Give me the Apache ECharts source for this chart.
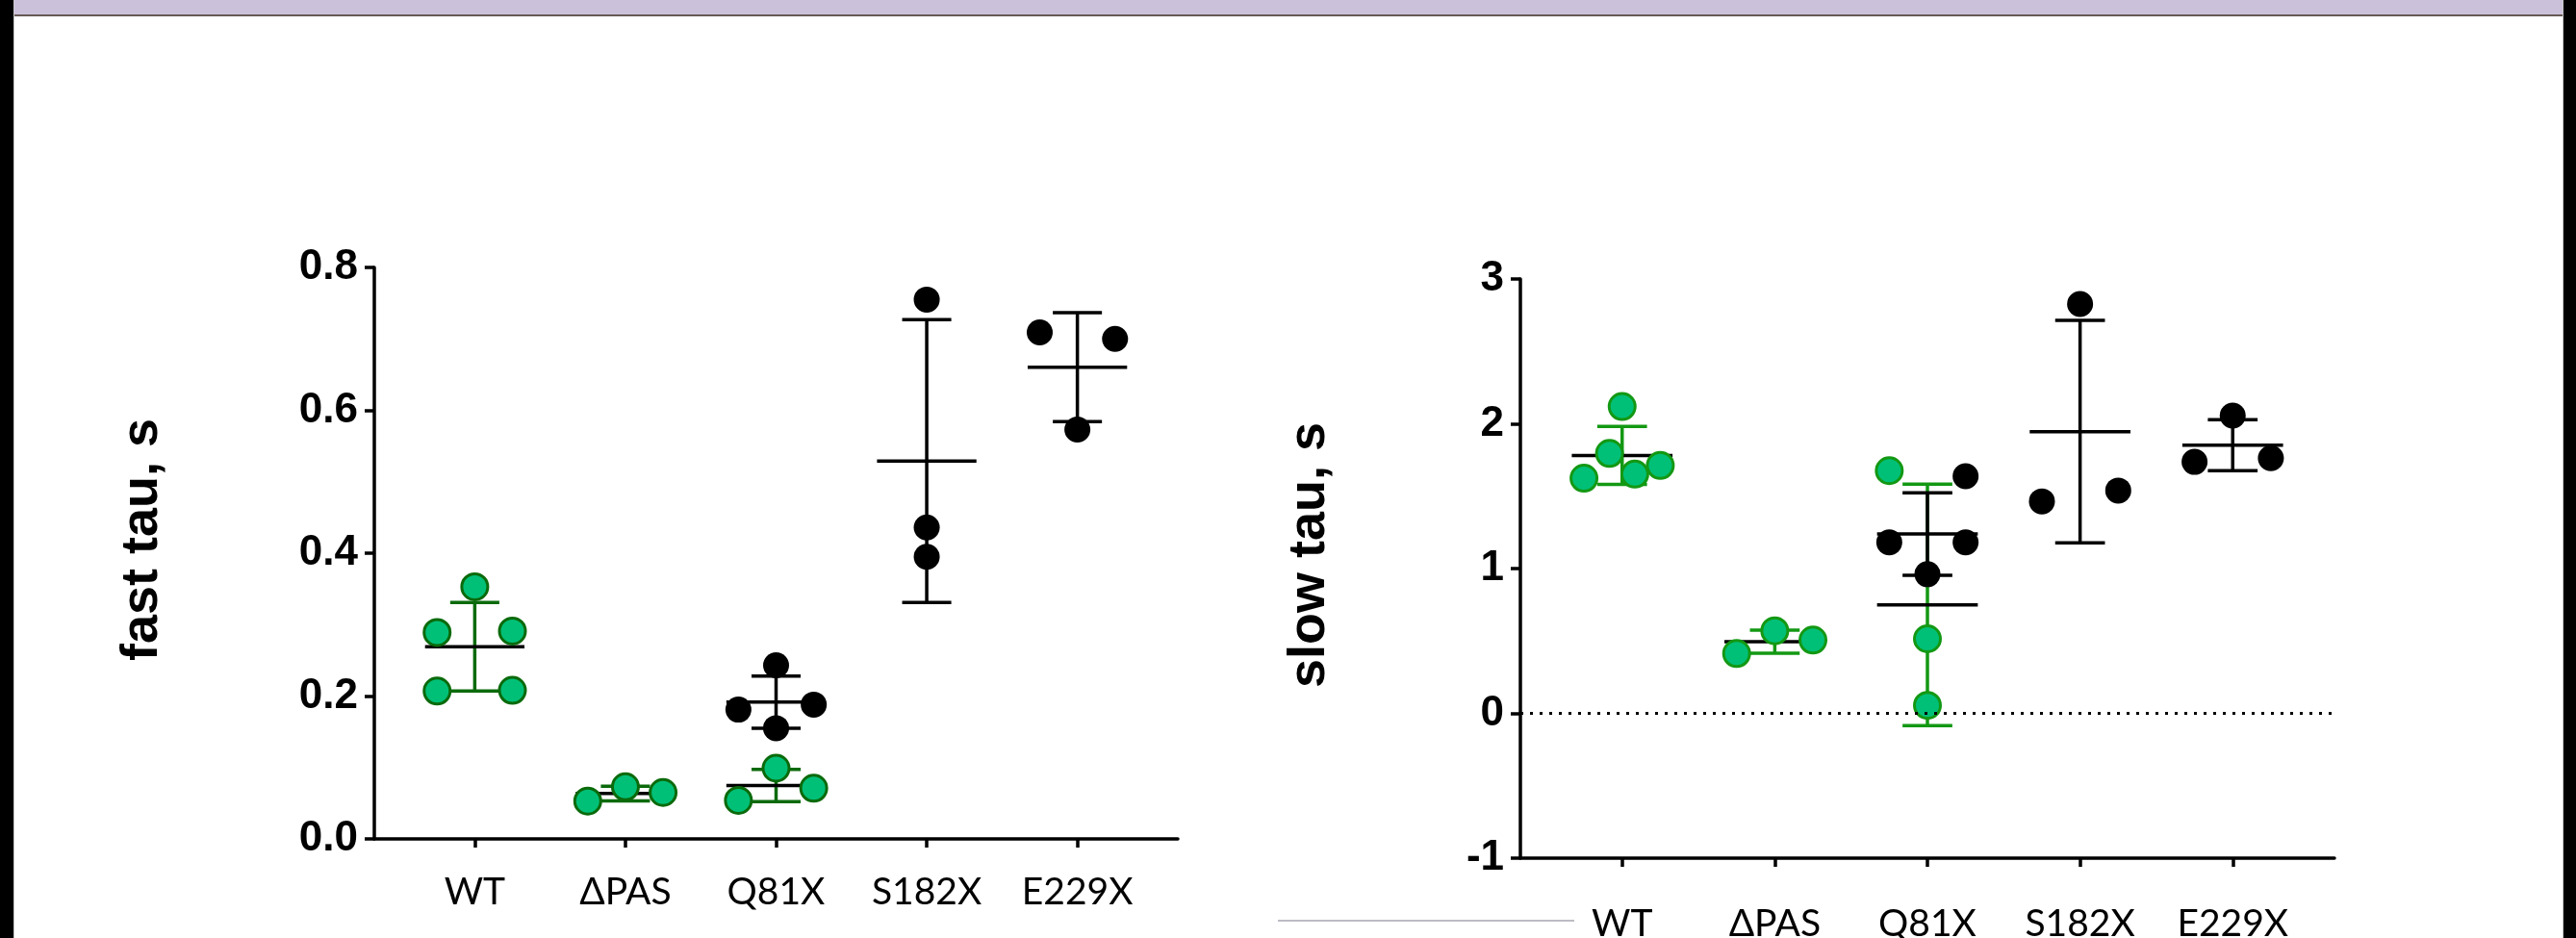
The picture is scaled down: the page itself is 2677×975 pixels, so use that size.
<!DOCTYPE html>
<html>
<head>
<meta charset="utf-8">
<script src="https://cdn.jsdelivr.net/npm/echarts@6/dist/echarts.min.js"></script>
<style>
html,body{margin:0;padding:0;background:#fff;}
#c{width:2677px;height:975px;}
</style>
</head>
<body>
<div id="c"></div>
<script>
// ---------------- DATA ----------------
const categories = ['WT', 'ΔPAS', 'Q81X', 'S182X', 'E229X'];
const categoryPositions = [1, 2, 3, 4, 5];
const fastTickValues = [0, 0.2, 0.4, 0.6, 0.8];
const slowTickValues = [-1, 0, 1, 2, 3];

// fast tau, s : individual points
const fastWT = [0.353, 0.289, 0.291, 0.207, 0.208];
const fastDPAS = [0.053, 0.073, 0.065];
const fastQ81XGreen = [0.054, 0.099, 0.071];
const fastQ81XBlack = [0.243, 0.181, 0.188, 0.155];
const fastS182X = [0.755, 0.436, 0.395];
const fastE229X = [0.709, 0.700, 0.573];
// fast tau, s : mean and SD (green groups: WT, ΔPAS, Q81X ; black groups: Q81X, S182X, E229X)
const fastGreenMean = [0.269, 0.0636, 0.0748];
const fastGreenSD = [0.062, 0.0103, 0.0225];
const fastBlackMean = [0.1915, 0.529, 0.6604];
const fastBlackSD = [0.0365, 0.198, 0.0762];

// slow tau, s : individual points
const slowWT = [2.119, 1.795, 1.624, 1.652, 1.712];
const slowDPAS = [0.413, 0.570, 0.506];
const slowQ81XGreen = [1.676, 0.515, 0.055];
const slowQ81XBlack = [1.638, 1.181, 1.181, 0.961];
const slowS182X = [2.827, 1.464, 1.539];
const slowE229X = [2.056, 1.737, 1.762];
// slow tau, s : mean and SD
const slowGreenMean = [1.781, 0.4955, 0.749];
const slowGreenSD = [0.200, 0.080, 0.834];
const slowBlackMean = [1.239, 1.946, 1.852];
const slowBlackSD = [0.285, 0.768, 0.176];

// ---------------- LAYOUT / STYLE ----------------
// horizontal scatter offsets of the points within a column (category units)
const jitter = {
  fastWT: [0, -0.25, 0.25, -0.25, 0.25],
  fastDPAS: [-0.25, 0, 0.25],
  fastQ81XGreen: [-0.25, 0, 0.25],
  fastQ81XBlack: [0, -0.25, 0.25, 0],
  fastS182X: [0, 0, 0],
  fastE229X: [-0.25, 0.25, 0],
  slowWT: [0, -0.083, -0.25, 0.083, 0.25],
  slowDPAS: [-0.25, 0, 0.25],
  slowQ81XGreen: [-0.25, 0, 0],
  slowQ81XBlack: [0.25, -0.25, 0.25, 0],
  slowS182X: [0, -0.25, 0.25],
  slowE229X: [0, -0.25, 0.25]
};
const greenGroupPos = [1, 2, 3];
const blackGroupPos = [3, 4, 5];

const GREEN_FILL = '#00c078';
const GREEN_DARK_L = '#0b6a0b';
const GREEN_DARK_R = '#139813';
const MEAN_HALF = 0.33;
const CAP_HALF = 0.163;
const LW = 3.5;
const SYM = 27;

function scatter(g, pos, values, jit, fill, border, z, extra) {
  const s = {
    type: 'scatter', xAxisIndex: g, yAxisIndex: g, silent: true, z: z,
    symbol: 'circle', symbolSize: SYM,
    itemStyle: border ? {color: fill, borderColor: border, borderWidth: 3, opacity: 1}
                      : {color: fill, opacity: 1},
    emphasis: {disabled: true},
    data: values.map((v, i) => [pos + jit[i], v]),
    animation: false
  };
  return Object.assign(s, extra || {});
}

function errorBars(g, positions, means, sds, whisker, z) {
  return {
    type: 'custom', xAxisIndex: g, yAxisIndex: g, silent: true, z: z, animation: false,
    data: positions.map((p, i) => [p, means[i], sds[i]]),
    encode: {x: 0, y: 1},
    renderItem: function (params, api) {
      const x = api.value(0), m = api.value(1), s = api.value(2);
      const t = api.coord([x, m + s]);
      const b = api.coord([x, m - s]);
      const c = api.coord([x, m]);
      const cap = api.size([CAP_HALF, 0])[0];
      const mh = api.size([MEAN_HALF, 0])[0];
      const st = {stroke: whisker, lineWidth: LW};
      return {
        type: 'group',
        children: [
          {type: 'line', shape: {x1: t[0], y1: t[1], x2: b[0], y2: b[1]}, style: st},
          {type: 'line', shape: {x1: t[0] - cap, y1: t[1], x2: t[0] + cap, y2: t[1]}, style: st},
          {type: 'line', shape: {x1: b[0] - cap, y1: b[1], x2: b[0] + cap, y2: b[1]}, style: st},
          {type: 'line', shape: {x1: c[0] - mh, y1: c[1], x2: c[0] + mh, y2: c[1]}, style: {stroke: '#000', lineWidth: LW}}
        ]
      };
    }
  };
}

function xAxis(g, margin) {
  return {
    type: 'value', gridIndex: g, min: 1 / 3, max: 17 / 3,
    axisLine: {show: true, onZero: false, lineStyle: {color: '#000', width: LW}},
    axisTick: {show: true, customValues: categoryPositions, length: 9, lineStyle: {color: '#000', width: LW}},
    axisLabel: {
      customValues: categoryPositions,
      formatter: v => categories[Math.round(v) - 1] || '',
      fontFamily: 'Lato', fontSize: 39, color: '#000', margin: margin
    },
    splitLine: {show: false}
  };
}

function yAxis(g, min, max, interval, ticks, fmt, margin) {
  return {
    type: 'value', gridIndex: g, min: min, max: max, interval: interval,
    axisLine: {show: true, onZero: false, lineStyle: {color: '#000', width: LW}},
    axisTick: {show: true, length: 10, customValues: ticks, lineStyle: {color: '#000', width: LW}},
    axisLabel: {
      customValues: ticks, formatter: fmt,
      fontFamily: 'Liberation Sans', fontWeight: 'bold', fontSize: 44, color: '#000', margin: margin
    },
    splitLine: {show: false}
  };
}

const chart = echarts.init(document.getElementById('c'), null, {renderer: 'canvas'});

const option = {
  backgroundColor: '#ffffff',
  animation: false,
  grid: [
    {left: 389, top: 278, width: 835, height: 594, outerBoundsMode: 'none', containLabel: false},
    {left: 1580, top: 290, width: 846, height: 602, outerBoundsMode: 'none', containLabel: false}
  ],
  xAxis: [xAxis(0, 36), xAxis(1, 49)],
  yAxis: [
    yAxis(0, 0, 0.8, 0.2, fastTickValues, v => v.toFixed(1), 17),
    yAxis(1, -1, 3, 1, slowTickValues, v => String(Math.round(v)), 17)
  ],
  series: [
    // ---- fast tau panel ----
    errorBars(0, greenGroupPos, fastGreenMean, fastGreenSD, GREEN_DARK_L, 2),
    scatter(0, 1, fastWT, jitter.fastWT, GREEN_FILL, GREEN_DARK_L, 3),
    scatter(0, 2, fastDPAS, jitter.fastDPAS, GREEN_FILL, GREEN_DARK_L, 3),
    scatter(0, 3, fastQ81XGreen, jitter.fastQ81XGreen, GREEN_FILL, GREEN_DARK_L, 3),
    errorBars(0, blackGroupPos, fastBlackMean, fastBlackSD, '#000', 4),
    scatter(0, 3, fastQ81XBlack, jitter.fastQ81XBlack, '#000', null, 5),
    scatter(0, 4, fastS182X, jitter.fastS182X, '#000', null, 5),
    scatter(0, 5, fastE229X, jitter.fastE229X, '#000', null, 5),
    // ---- slow tau panel ----
    errorBars(1, greenGroupPos, slowGreenMean, slowGreenSD, GREEN_DARK_R, 2),
    scatter(1, 1, slowWT, jitter.slowWT, GREEN_FILL, GREEN_DARK_R, 3, {
      markLine: {
        silent: true, symbol: ['none', 'none'], label: {show: false}, animation: false,
        lineStyle: {color: '#000', type: [3, 7], width: 3, opacity: 1},
        emphasis: {disabled: true},
        data: [{yAxis: 0}]
      }
    }),
    scatter(1, 2, slowDPAS, jitter.slowDPAS, GREEN_FILL, GREEN_DARK_R, 3),
    scatter(1, 3, slowQ81XGreen, jitter.slowQ81XGreen, GREEN_FILL, GREEN_DARK_R, 3),
    errorBars(1, blackGroupPos, slowBlackMean, slowBlackSD, '#000', 4),
    scatter(1, 3, slowQ81XBlack, jitter.slowQ81XBlack, '#000', null, 5),
    scatter(1, 4, slowS182X, jitter.slowS182X, '#000', null, 5),
    scatter(1, 5, slowE229X, jitter.slowE229X, '#000', null, 5)
  ],
  graphic: [
    // axis titles
    {type: 'text', x: 148, y: 561, rotation: Math.PI / 2, silent: true,
      style: {text: 'fast tau, s', fontFamily: 'Liberation Sans', fontWeight: 'bold', fontSize: 54, fill: '#000', align: 'center', verticalAlign: 'middle'}},
    {type: 'text', x: 1361, y: 577, rotation: Math.PI / 2, silent: true,
      style: {text: 'slow tau, s', fontFamily: 'Liberation Sans', fontWeight: 'bold', fontSize: 54, fill: '#000', align: 'center', verticalAlign: 'middle'}},
    // top band
    {type: 'rect', silent: true, shape: {x: 14, y: 0, width: 2650, height: 15}, style: {fill: '#cbc1db'}},
    {type: 'rect', silent: true, shape: {x: 14, y: 15, width: 2650, height: 2}, style: {fill: '#675a55'}},
    // faint line at the bottom
    {type: 'line', silent: true, shape: {x1: 1328, y1: 957, x2: 1636, y2: 957}, style: {stroke: '#bcbcc4', lineWidth: 2}},
    // side borders
    {type: 'rect', silent: true, z: 100, shape: {x: 0, y: 0, width: 14, height: 975}, style: {fill: '#000'}},
    {type: 'rect', silent: true, z: 100, shape: {x: 14, y: 0, width: 1, height: 975}, style: {fill: '#c8c8c8'}},
    {type: 'rect', silent: true, z: 100, shape: {x: 2664, y: 0, width: 13, height: 975}, style: {fill: '#000'}},
    {type: 'rect', silent: true, z: 100, shape: {x: 2663, y: 0, width: 1, height: 975}, style: {fill: '#c8c8c8'}}
  ]
};

chart.setOption(option);
</script>
</body>
</html>
